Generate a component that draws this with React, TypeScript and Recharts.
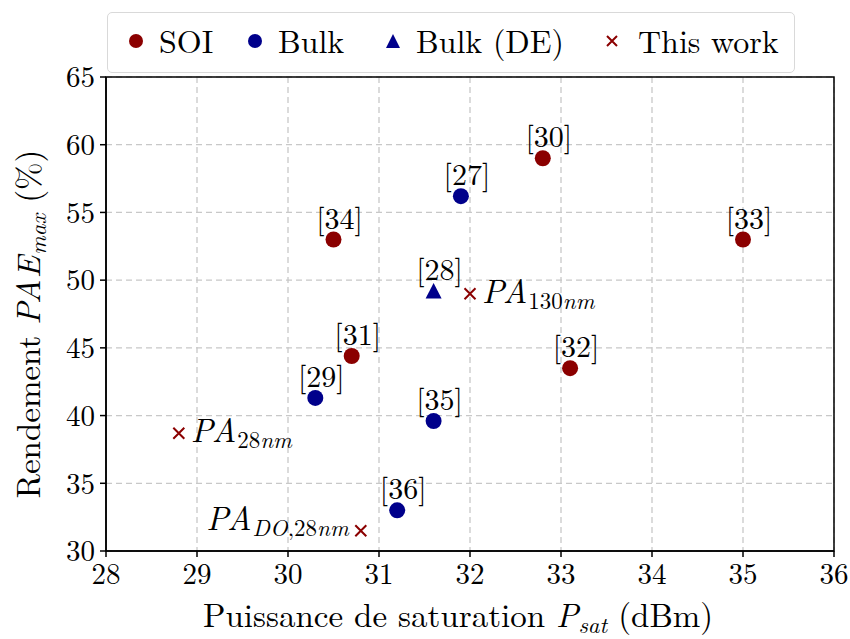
import React from 'react';
import { ScatterChart, Scatter, XAxis, YAxis, CartesianGrid, ReferenceArea } from 'recharts';

const FONT = '"Latin Modern Roman", "CMU Serif", "Liberation Serif", "DejaVu Serif", "Noto Serif", "Times New Roman", Tinos, serif';
const SOI_COLOR = '#8b0000';
const BULK_COLOR = '#00008b';

// SOI references
const soiX = [30.5, 30.7, 32.8, 33.1, 35.0];
const soiY = [53.0, 44.4, 59.0, 43.5, 53.0];
const soiRefs = ['[34]', '[31]', '[30]', '[32]', '[33]'];

// Bulk references
const bulkX = [31.9, 30.3, 31.6, 31.2];
const bulkY = [56.2, 41.3, 39.6, 33.0];
const bulkRefs = ['[27]', '[29]', '[35]', '[36]'];

// Bulk (DE)
const deX = [31.6];
const deY = [49.2];
const deRefs = ['[28]'];

// This work
const workX = [32.0, 28.8, 30.8];
const workY = [49.0, 38.7, 31.5];
const workSubs = ['130nm', '28nm', 'DO,28nm'];
const workSide = ['right', 'right', 'left'];

const xTicks = [28, 29, 30, 31, 32, 33, 34, 35, 36];
const yTicks = [30, 35, 40, 45, 50, 55, 60, 65];

const legendLabels = ['SOI', 'Bulk', 'Bulk (DE)', 'This work'];
const legendIconLeft = [20, 139, 277, 496];
const legendTextLeft = [51, 170, 308, 530];

const soiData = soiX.map((x, i) => ({ x, y: soiY[i], ref: soiRefs[i] }));
const bulkData = bulkX.map((x, i) => ({ x, y: bulkY[i], ref: bulkRefs[i] }));
const deData = deX.map((x, i) => ({ x, y: deY[i], ref: deRefs[i] }));
const workData = workX.map((x, i) => ({ x, y: workY[i], sub: workSubs[i], side: workSide[i] }));

const ANN_SIZE = 30;

const RefLabel = ({ cx, cy, text }: any) => (
  <text x={cx + 6} y={cy - 11} textAnchor="middle" fontSize={ANN_SIZE} fontFamily={FONT} fill="#000">
    {text}
  </text>
);

const makeCircleShape = (color: string) => (props: any) => {
  const { cx, cy, payload } = props;
  return (
    <g>
      <circle cx={cx} cy={cy} r={8} fill={color} />
      <RefLabel cx={cx} cy={cy} text={payload.ref} />
    </g>
  );
};

const TriangleShape = (props: any) => {
  const { cx, cy, payload } = props;
  return (
    <g>
      <path d={`M${cx},${cy - 8} L${cx + 8},${cy + 7.5} L${cx - 8},${cy + 7.5} Z`} fill={BULK_COLOR} />
      <RefLabel cx={cx} cy={cy} text={payload.ref} />
    </g>
  );
};

const subParts = (s: string) =>
  s.split('').map((ch, i) => (
    <tspan key={i} fontStyle={/[A-Za-z]/.test(ch) ? 'italic' : 'normal'}>{ch}</tspan>
  ));

const CrossShape = (props: any) => {
  const { cx, cy, payload } = props;
  const d = 5.5;
  const right = payload.side === 'right';
  return (
    <g>
      <path d={`M${cx - d},${cy - d} L${cx + d},${cy + d} M${cx - d},${cy + d} L${cx + d},${cy - d}`} stroke={SOI_COLOR} strokeWidth={2} />
      <text
        x={right ? cx + 12 : cx - 12}
        y={right ? cy + 9 : cy - 1}
        textAnchor={right ? 'start' : 'end'}
        fontSize={33}
        fontFamily={FONT}
        fill="#000"
      >
        <tspan fontStyle="italic" letterSpacing={1}>PA</tspan>
        <tspan fontSize={23} dy={6}>{subParts(payload.sub)}</tspan>
      </text>
    </g>
  );
};

const LegendIcon = ({ idx }: { idx: number }) => {
  if (idx === 0 || idx === 1)
    return (
      <svg width={16} height={16} style={{ display: 'block' }}>
        <circle cx={8} cy={8} r={7} fill={idx === 0 ? SOI_COLOR : BULK_COLOR} />
      </svg>
    );
  if (idx === 2)
    return (
      <svg width={16} height={16} style={{ display: 'block' }}>
        <path d="M8,1 L15,15 L1,15 Z" fill={BULK_COLOR} />
      </svg>
    );
  return (
    <svg width={16} height={16} style={{ display: 'block' }}>
      <path d="M3,3 L13,13 M3,13 L13,3" stroke={SOI_COLOR} strokeWidth={2} />
    </svg>
  );
};

const YLabel = (props: any) => {
  const vb = props.viewBox || {};
  const cy = vb.y + vb.height / 2 + 10;
  const x = 40;
  return (
    <text transform={`translate(${x},${cy}) rotate(-90)`} textAnchor="middle" fontSize={33} fontFamily={FONT} fill="#000">
      <tspan>Rendement </tspan>
      <tspan fontStyle="italic" letterSpacing={1}>PAE</tspan>
      <tspan fontStyle="italic" fontSize={23} dy={6}>max</tspan>
      <tspan dy={-6}> (%)</tspan>
    </text>
  );
};

const XLabel = (props: any) => {
  const vb = props.viewBox || {};
  const cx = vb.x + vb.width / 2 - 12;
  return (
    <text x={cx} y={627} textAnchor="middle" fontSize={33} fontFamily={FONT} fill="#000">
      <tspan>Puissance de saturation </tspan>
      <tspan fontStyle="italic">P</tspan>
      <tspan fontStyle="italic" fontSize={23} dy={6}>sat</tspan>
      <tspan dy={-6}> (dBm)</tspan>
    </text>
  );
};

export default function App() {
  return (
    <div style={{ position: 'absolute', left: 0, top: 0, width: 850, height: 639, background: '#fff' }}>
      <ScatterChart width={850} height={639} margin={{ top: 77, right: 16, bottom: 0, left: 0 }}>
        <CartesianGrid stroke="#c8c8c8" strokeDasharray="6 4" strokeWidth={1.3} />
        <XAxis
          type="number"
          dataKey="x"
          domain={[28, 36]}
          ticks={xTicks}
          height={88}
          tickSize={6}
          tickMargin={6}
          stroke="#000"
          strokeWidth={1.5}
          tick={{ fill: '#000', fontSize: 29, fontFamily: FONT }}
          label={{ content: XLabel }}
        />
        <YAxis
          type="number"
          dataKey="y"
          domain={[30, 65]}
          ticks={yTicks}
          width={106}
          tickSize={6}
          tickMargin={5}
          stroke="#000"
          strokeWidth={1.5}
          tick={{ fill: '#000', fontSize: 29, fontFamily: FONT }}
          label={{ content: YLabel }}
        />
        <ReferenceArea x1={28} x2={36} y1={30} y2={65} fill="none" stroke="#000" strokeWidth={1.5} fillOpacity={0} />
        <Scatter data={soiData} shape={makeCircleShape(SOI_COLOR)} isAnimationActive={false} />
        <Scatter data={bulkData} shape={makeCircleShape(BULK_COLOR)} isAnimationActive={false} />
        <Scatter data={deData} shape={TriangleShape} isAnimationActive={false} />
        <Scatter data={workData} shape={CrossShape} isAnimationActive={false} />
      </ScatterChart>
      <div
        style={{
          position: 'absolute',
          left: 107,
          top: 12,
          width: 688,
          height: 61,
          boxSizing: 'border-box',
          border: '1.5px solid #d9d9d9',
          borderRadius: 5,
          background: '#fff',
          fontFamily: FONT,
          fontSize: 32,
          color: '#000',
        }}
      >
        {legendLabels.map((l, i) => (
          <React.Fragment key={l}>
            <div style={{ position: 'absolute', left: legendIconLeft[i], top: 20 }}>
              <LegendIcon idx={i} />
            </div>
            <span style={{ position: 'absolute', left: legendTextLeft[i], top: 11, lineHeight: 1 }}>{l}</span>
          </React.Fragment>
        ))}
      </div>
    </div>
  );
}
